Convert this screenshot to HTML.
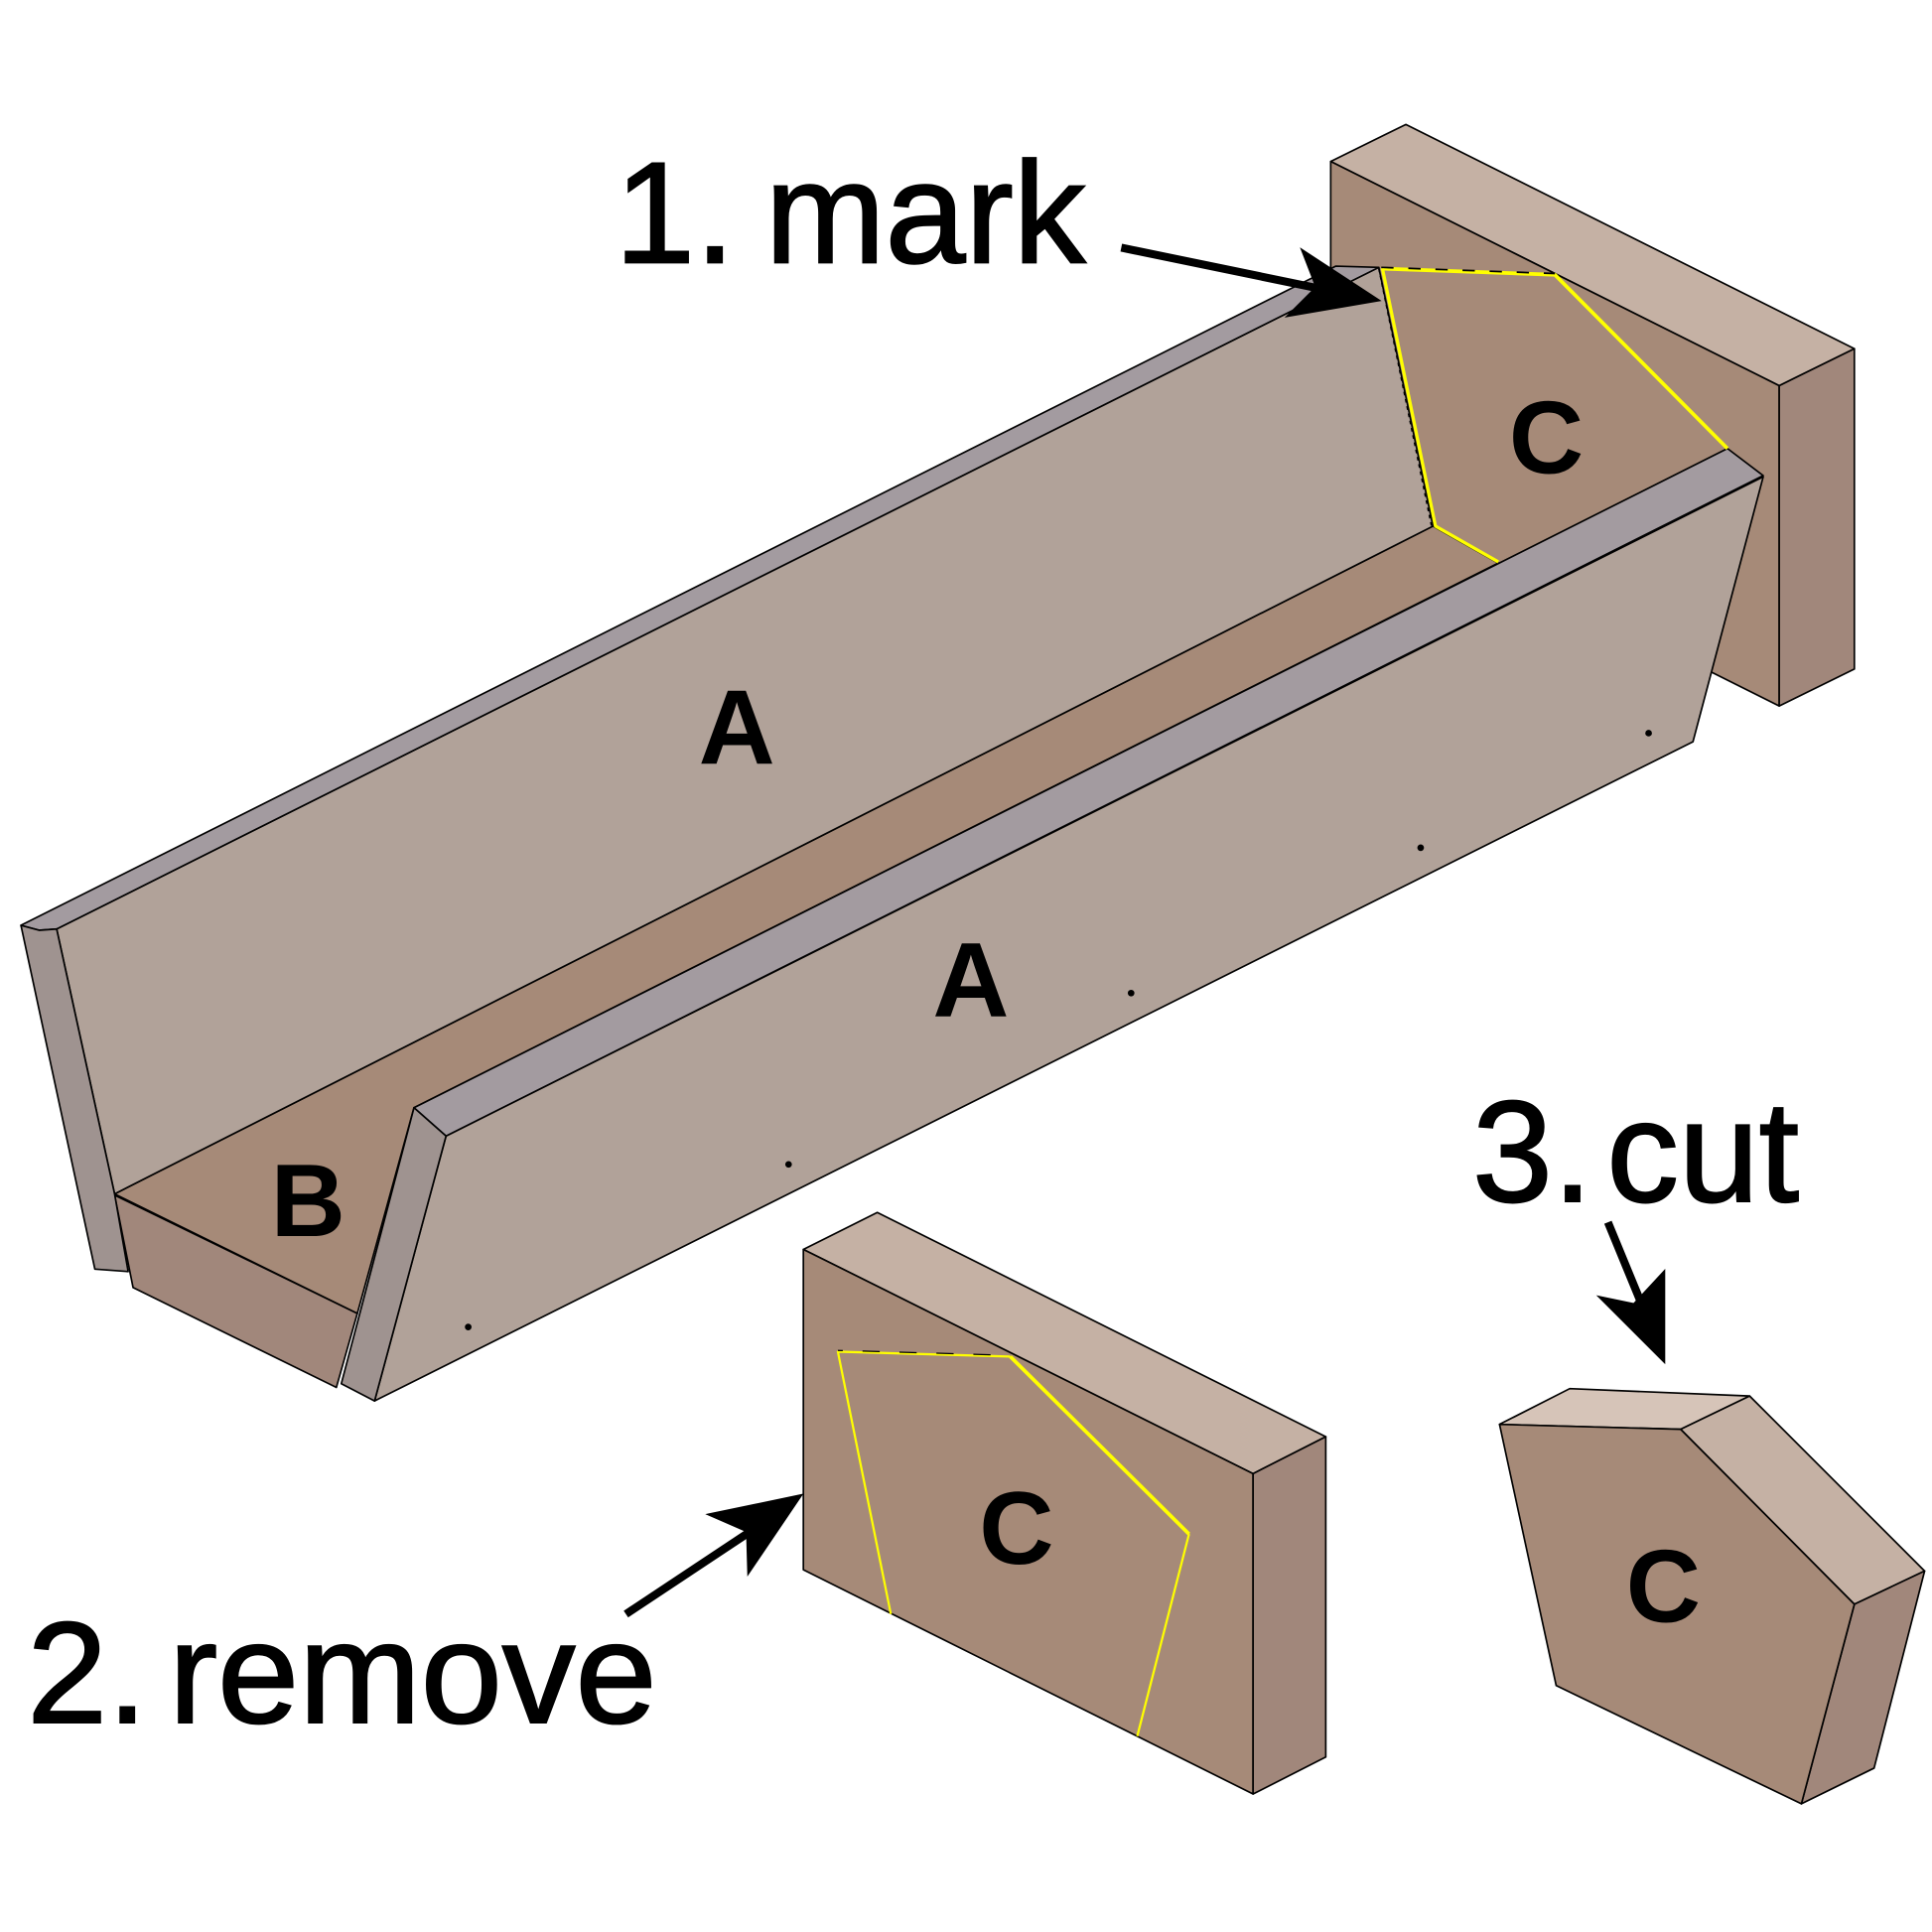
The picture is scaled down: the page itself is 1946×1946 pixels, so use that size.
<!DOCTYPE html>
<html>
<head>
<meta charset="utf-8">
<style>
  html, body { margin: 0; padding: 0; background: #ffffff; }
  svg { display: block; }
  .t { font-family: "Liberation Sans", Arial, sans-serif; fill: #000; stroke: #000; stroke-width: 1.6; }
  .b { font-family: "Liberation Sans", Arial, sans-serif; font-weight: bold; fill: #000; }
</style>
</head>
<body>
<svg width="1946" height="1946" viewBox="0 0 1568 1568" xmlns="http://www.w3.org/2000/svg">
  <rect x="0" y="0" width="1568" height="1568" fill="#ffffff"/>

  <g stroke="#000" stroke-width="1.35" stroke-linejoin="round">
    <!-- Back block (C) -->
    <polygon points="1080,131 1141,101 1505,283 1444,313" fill="#C5B1A4"/>
    <polygon points="1080,131 1444,313 1444,573 1080,391" fill="#A68A78"/>
    <polygon points="1444,313 1505,283 1505,543 1444,573" fill="#A1877B"/>

    <!-- Base B top (channel) and front -->
    <polygon points="93,969 1163,427 1216,457 336,899 290,1066" fill="#A68A78"/>
    <polygon points="93,970 108,1045 273,1126 290,1066" fill="#A1877B"/>

    <!-- Left panel (A upper) -->
    <polygon points="46,754 1119,217 1163,427 93,969" fill="#B1A299"/>
    <polygon points="17,751 1084,216 1119,217 46,754 32,755" fill="#A39BA0"/>
    <polygon points="17,751 32,755 46,754 93,969 104,1032 77,1030" fill="#9F9390"/>

    <!-- Right panel (A lower) -->
    <polygon points="362,922 1431,387 1374,602 304,1137" fill="#B1A299"/>
    <polygon points="336,899 1402,364 1431,386 362,922" fill="#A39BA0"/>
    <polygon points="336,899 362,922 304,1137 277,1123" fill="#9F9390"/>
  </g>

  <!-- Yellow marks on back block -->
  <g fill="none" stroke-linejoin="round">
    <polyline points="1121,218 1262,223 1402,364" stroke="#FFFF00" stroke-width="3"/>
    <line x1="1121" y1="217" x2="1262" y2="222" stroke="#000" stroke-width="1.4" stroke-dasharray="10,12"/>
    <polyline points="1122,218 1165,427 1216,456" stroke="#FFFF00" stroke-width="2.6"/>
    <line x1="1119" y1="218" x2="1162" y2="428" stroke="#000" stroke-width="1.2" stroke-dasharray="3,3"/>
  </g>

  <!-- Dots -->
  <g fill="#000">
    <circle cx="380" cy="1077" r="2.7"/>
    <circle cx="640" cy="945" r="2.7"/>
    <circle cx="918" cy="806" r="2.7"/>
    <circle cx="1153" cy="688" r="2.7"/>
    <circle cx="1338" cy="595" r="2.7"/>
  </g>

  <!-- Middle block (removed C) -->
  <g stroke="#000" stroke-width="1.35" stroke-linejoin="round">
    <polygon points="652,1014 712,984 1076,1166 1017,1196" fill="#C5B1A4"/>
    <polygon points="652,1014 1017,1196 1017,1456 652,1274" fill="#A68A78"/>
    <polygon points="1017,1196 1076,1166 1076,1426 1017,1456" fill="#A1877B"/>
  </g>
  <g fill="none" stroke-linejoin="round">
    <polyline points="723,1310 680,1097 820,1101" stroke="#FFFF00" stroke-width="1.8"/>
    <polyline points="820,1101 965,1245" stroke="#FFFF00" stroke-width="3"/>
    <polyline points="965,1245 923,1409" stroke="#FFFF00" stroke-width="1.8"/>
    <line x1="680" y1="1096" x2="820" y2="1100" stroke="#000" stroke-width="1" stroke-dasharray="14,16" stroke-dashoffset="-20"/>
  </g>

  <!-- Cut piece (C) -->
  <g stroke="#000" stroke-width="1.35" stroke-linejoin="round">
    <polygon points="1217,1156 1274,1127 1420,1133 1364,1160" fill="#D6C4B8"/>
    <polygon points="1364,1160 1420,1133 1562,1275 1505,1302" fill="#C5B1A4"/>
    <polygon points="1505,1302 1562,1275 1521,1435 1462,1464" fill="#A1877B"/>
    <polygon points="1217,1156 1364,1160 1505,1302 1462,1464 1263,1368" fill="#A68A78"/>
  </g>

  <!-- Arrows -->
  <g fill="#000" stroke="#000">
    <line x1="910" y1="201" x2="1070" y2="234" stroke-width="6.5"/>
    <polygon points="1120,244 1056,202 1068,233 1044,257" stroke-width="1"/>

    <line x1="508" y1="1310" x2="612" y2="1241" stroke-width="6.5"/>
    <polygon points="651,1213 574,1229 606,1243 607,1278" stroke-width="1"/>

    <line x1="1305" y1="992" x2="1333" y2="1060" stroke-width="6.5"/>
    <polygon points="1351,1106 1297,1052 1326,1058 1351,1031" stroke-width="1"/>
  </g>

  <!-- Part labels -->
  <text class="b" x="598" y="620" font-size="86" text-anchor="middle">A</text>
  <text class="b" x="788" y="825" font-size="86" text-anchor="middle">A</text>
  <text class="b" x="250" y="1003" font-size="84" text-anchor="middle">B</text>
  <text class="b" x="1255" y="384" font-size="84" text-anchor="middle">C</text>
  <text class="b" x="825" y="1269" font-size="84" text-anchor="middle">C</text>
  <text class="b" x="1350" y="1316" font-size="84" text-anchor="middle">C</text>

  <!-- Step labels -->
  <text class="t" x="499" y="213" font-size="117">1.</text>
  <text class="t" x="621" y="213" font-size="117">mark</text>
  <text class="t" x="22" y="1398" font-size="117">2.</text>
  <text class="t" x="137" y="1398" font-size="117" textLength="396" lengthAdjust="spacingAndGlyphs">remove</text>
  <text class="t" x="1195" y="975" font-size="117">3.</text>
  <text class="t" x="1304" y="975" font-size="117">cut</text>
</svg>
</body>
</html>
